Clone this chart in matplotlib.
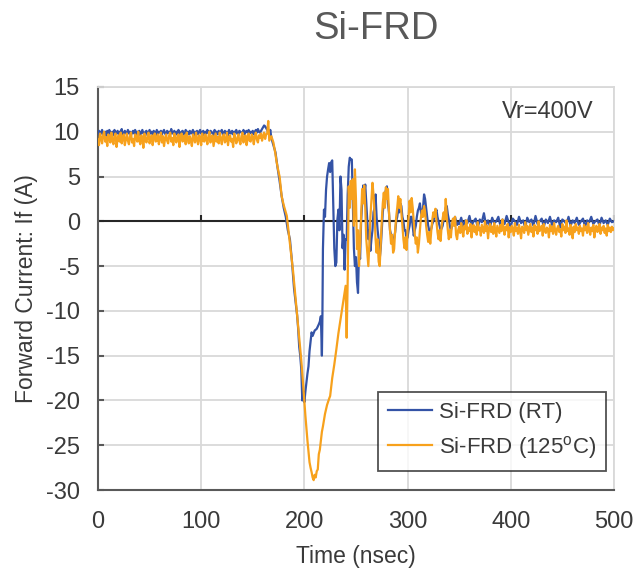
import numpy as np
import matplotlib
matplotlib.use('Agg')
import matplotlib.pyplot as plt

plt.rcParams['font.family'] = ['Liberation Sans', 'DejaVu Sans']
plt.rcParams['axes.unicode_minus'] = False

# ---- data (time in ns, current in A) ----
# flat forward-current part, one sample per ns from t=0
rt_flat = [9.8, 10.1, 9.6, 9.9, 10.2, 9.7, 9.9, 10.0, 9.5, 10.1, 9.8, 10.2, 9.7, 9.9, 10.0, 9.6, 10.2, 9.8, 9.9, 10.1,
           9.7, 10.0, 9.9, 10.3, 9.6, 9.8, 10.1, 9.9, 9.7, 10.2, 9.8, 10.0, 9.6, 9.9, 10.1, 9.8, 10.2, 9.7, 10.0, 9.9,
           10.1, 9.6, 9.9, 10.2, 9.8, 9.7, 10.0, 10.1, 9.6, 9.9, 10.2, 9.8, 10.0, 9.7, 10.1, 9.9, 9.6, 10.2, 9.8, 10.0,
           9.9, 10.1, 9.7, 10.0, 10.2, 9.8, 9.6, 10.1, 9.9, 10.0, 9.7, 10.3, 9.8, 9.9, 10.1, 9.6, 10.0, 9.8, 10.2, 9.9,
           9.7, 10.0, 10.1, 9.8, 9.6, 10.2, 9.9, 10.0, 9.7, 10.1, 9.8, 9.9, 10.2, 9.6, 10.0, 9.9, 10.1, 9.7, 10.0, 10.2,
           9.8, 9.9, 10.1, 9.6, 10.0, 9.8, 10.2, 9.9, 9.7, 10.1, 10.0, 9.8, 9.6, 10.2, 9.9, 10.0, 9.7, 10.1, 9.8, 10.0,
           10.2, 9.7, 9.9, 10.1, 9.8, 10.0, 9.6, 10.2, 9.9, 9.8, 10.1, 9.7, 10.0, 9.9, 10.2, 9.8, 9.6, 10.1, 10.0, 9.9,
           9.8, 10.2, 9.7, 10.0, 10.1, 9.9, 10.2, 9.8, 10.0, 9.9, 10.1, 9.7, 10.0, 10.2, 9.9, 10.3, 10.0, 9.9, 10.1, 10.3,
           10.5, 10.7, 10.6, 10.4]
hot_flat = [9.1, 8.5, 9.8, 9.3, 8.7, 9.6, 10.0, 8.9, 9.4, 8.4, 9.7, 9.2, 8.8, 9.9, 9.0, 8.6, 9.5, 9.8, 8.3, 9.2,
            9.6, 8.9, 9.9, 8.7, 9.3, 9.7, 8.5, 9.1, 9.8, 9.0, 8.6, 9.5, 9.9, 8.8, 9.2, 8.4, 9.7, 9.4, 8.9, 10.0,
            9.0, 8.6, 9.6, 9.3, 8.2, 9.8, 9.1, 8.8, 9.5, 9.9, 8.7, 9.2, 9.6, 8.5, 9.4, 9.8, 8.9, 9.0, 9.7, 8.6,
            9.3, 9.9, 8.8, 9.5, 8.4, 9.2, 9.7, 9.0, 8.7, 9.6, 9.9, 8.9, 9.3, 8.5, 9.8, 9.1, 8.8, 9.5, 9.7, 8.3,
            9.4, 9.8, 8.9, 9.1, 9.6, 8.6, 9.9, 9.2, 8.7, 9.5, 9.0, 8.4, 9.7, 9.3, 8.8, 9.9, 9.1, 8.6, 9.6, 9.4,
            8.5, 9.8, 9.0, 8.9, 9.7, 9.2, 8.6, 9.5, 10.0, 8.8, 9.3, 9.6, 8.4, 9.1, 9.8, 8.9, 9.4, 8.7, 9.9, 9.2,
            8.6, 9.5, 9.7, 8.8, 9.0, 9.9, 8.5, 9.3, 9.6, 8.9, 9.2, 8.3, 9.8, 9.4, 8.7, 9.1, 9.7, 9.0, 8.6, 9.5,
            9.9, 8.8, 9.3, 9.6, 8.5, 9.2, 9.8, 9.0, 8.9, 9.7, 9.4, 8.6, 9.5, 9.9, 9.1, 8.8, 9.6, 9.3, 9.8, 9.0,
            9.5, 9.9, 9.2, 9.7]

# turn-off transient, irregular time points up to 239 ns
rt_fall_t = [164, 166, 167, 168, 170, 172, 174, 176, 178, 180, 182, 184, 186, 188, 190, 192, 193, 194, 195, 196,
             197, 198, 199, 200, 201, 202, 203, 204, 205, 206, 207, 208, 210, 212, 214, 215, 216, 217, 217.5, 218,
             219, 220, 221, 222, 223, 224, 225, 226, 227, 228, 229, 230, 231, 232, 233, 234, 235, 236, 237, 238,
             239]
rt_fall_v = [10.2, 9.8, 10.2, 9.3, 8.5, 7.7, 6.0, 4.5, 2.8, 1.5, 0.5, -1.0, -2.0, -4.5, -7.5, -9.5, -10.5, -12.0, -14.0, -15.0,
             -16.5, -20.0, -19.0, -20.2, -19.0, -18.0, -17.0, -16.2, -14.5, -13.5, -12.4, -12.8, -12.2, -12.0, -11.5, -11.2, -10.6, -15.0, -10.5, -3.1,
             1.3, 0.5, 3.5, 5.0, 5.8, 6.5, 5.5, 6.6, 6.8, 2.1, -3.0, -5.0, -4.6, 0.2, 1.3, -1.0, 5.0, 3.5, -3.0, -1.5,
             -5.4]
hot_fall_t = [164, 165, 166, 168, 170, 172, 173, 175, 176, 178, 180, 182, 183, 185, 187, 189, 191, 193, 195, 197,
              199, 201, 203, 205, 206, 207, 208, 209, 210, 211, 212, 213, 214, 215, 216, 217, 218, 220, 222, 224,
              225, 227, 229, 231, 233, 235, 237, 239]
hot_fall_v = [9.8, 11.2, 9.0, 9.5, 8.8, 7.5, 6.7, 5.5, 5.0, 2.8, 1.8, 1.0, 0.6, -1.5, -3.5, -5.5, -8.0, -10.6, -13.0, -15.5,
              -18.5, -21.7, -24.5, -26.9, -27.5, -28.0, -28.6, -28.9, -28.3, -28.6, -27.9, -27.7, -26.0, -25.5, -24.5, -23.5, -22.9, -21.5, -20.5, -19.8,
              -19.5, -17.5, -16.0, -14.3, -12.5, -11.0, -9.5, -8.0]

# ringing, one sample per ns from t=240 to 349
rt_ring = [-2.0, -2.0, 3.0, 6.1, 7.1, 6.9, 6.9, 2.0, -3.0, -5.0, -4.0, -6.8, -8.0, -3.0, -4.2, 0.0, 2.0, 4.0, 3.0, 4.1,
           2.0, 0.0, -2.0, -1.0, -3.3, -2.0, -1.0, 1.0, 1.5, 3.0, 0.5, -1.0, -2.0, -4.2, -3.0, -1.0, 1.0, 2.0, 3.0, 3.5,
           3.9, 2.0, 1.0, -1.0, -1.5, -2.0, -2.5, -1.8, -1.2, 0.0, 0.5, 1.5, 1.0, 2.0, 1.7, 0.5, 0.0, -1.0, -1.0, -2.0,
           -1.8, -1.0, -0.5, 0.5, 0.5, -0.5, -1.6, -1.0, -0.5, 0.5, 1.2, 1.5, 2.0, 1.0, 0.5, 1.5, 3.0, 2.5, 1.5, 0.5,
           -0.5, -1.0, -1.2, -0.8, -0.3, 0.0, 0.5, 1.0, 1.3, 0.5, 0.0, -0.5, -1.0, -0.8, -0.5, 0.2, 0.8, 1.5, 1.7, 0.8,
           0.2, -0.5, -1.0, -0.6, -0.3, 0.2, 0.5, 0.0, -0.4, -0.2]
hot_ring = [-7.2, -13.0, -6.5, 3.9, 1.5, 4.5, 2.5, 4.7, -0.5, 5.8, 2.5, -3.1, -1.0, -5.0, -2.5, 0.5, 3.6, 2.0, 4.0, 1.5,
            -2.0, -3.5, -5.0, -2.5, 0.5, 2.5, 4.3, 3.0, 1.0, -2.0, -3.5, -2.0, -4.5, -5.0, -2.5, 0.0, 2.0, 3.2, 1.5, 3.8,
            2.5, 3.6, 1.0, -1.0, -2.5, -1.5, -3.5, -3.1, -1.0, 0.5, 1.5, 2.8, 1.5, 2.5, 1.0, -0.5, -2.0, -3.0, -1.8, -3.2,
            -1.0, 0.5, 2.3, 1.0, 2.6, 1.5, 0.0, -1.5, -2.5, -1.8, -3.5, -2.5, -1.0, 0.5, 1.2, 0.5, 1.7, 1.0, -0.5, -1.5,
            -2.3, -1.2, -2.5, -1.0, 0.2, 1.0, 0.5, 1.4, 0.0, -1.2, -2.0, -1.0, -2.2, -0.6, 0.3, 1.0, 0.2, 2.5, 0.5, -1.0,
            -2.0, -1.0, -1.8, -0.3, 0.3, -0.5, 0.5, -1.5, -2.0, -1.0]

# settled tail from t=350: RT every 2 ns, 125C every 1 ns
rt_tail = [-0.3, 0.4, -0.6, 0.1, -0.2, 0.6, -0.5, 0.0, 0.3, -0.7, 0.2, -0.1, 0.9, -0.4, 0.1, -0.6, 0.4, -0.2, 0.0, 0.5,
           -0.5, 0.2, -0.3, 0.6, -0.1, -0.6, 0.3, 0.0, -0.4, 0.5, -0.2, 0.1, -0.7, 0.4, -0.1, 0.2, -0.5, 0.6, -0.3, 0.0,
           0.3, -0.6, 0.2, -0.2, 0.5, -0.4, 0.1, -0.1, 0.4, -0.7, 0.2, 0.0, -0.3, 0.5, -0.5, 0.1, -0.2, 0.4, -0.4, 0.0,
           0.3, -0.6, 0.1, -0.1, 0.5, -0.3, 0.0, 0.2, -0.5, 0.4, -0.2, 0.1, -0.4, 0.3, -0.1, 0.0, 0.2, -0.3]
hot_tail = [-0.6, -1.3, -0.2, -1.0, -1.7, -0.5, -0.9, 0.1, -1.4, -0.7, -1.1, -0.3, -1.8, -0.8, -0.4, -1.2, -0.6, -1.5, -0.1, -1.0,
            -0.7, -1.6, -0.4, -0.9, -1.3, 0.0, -1.1, -0.5, -1.9, -0.8, -0.3, -1.2, -0.6, -1.4, -0.2, -1.0, -1.7, -0.5, -0.9, -1.3,
            -0.4, -1.1, 0.2, -0.8, -1.5, -0.6, -1.0, -0.3, -1.8, -0.7, -1.2, -0.5, -0.9, -1.6, -0.2, -1.1, -0.7, -1.4, -0.4, -1.0,
            -1.9, -0.6, -0.8, -1.3, -0.1, -1.0, -0.5, -1.5, -0.9, -0.3, -1.2, -0.7, -1.7, -0.4, -1.0, -0.6, -1.4, 0.0, -1.1, -0.8,
            -0.5, -1.6, -0.3, -1.0, -1.3, -0.7, -0.9, -1.8, -0.4, -1.1, -0.6, -1.4, -0.2, -1.0, -1.5, -0.8, -0.5, -1.2, -0.9, -1.7,
            -0.3, -1.0, -0.6, -1.3, 0.1, -1.1, -0.8, -1.5, -0.4, -0.9, -1.9, -0.6, -1.2, -0.3, -1.0, -0.7, -1.4, -0.5, -1.1, -0.8,
            -1.6, -0.4, -1.0, -0.6, -1.3, -0.2, -0.9, -1.5, -0.7, -1.1, -0.4, -1.8, -0.8, -0.5, -1.2, -0.9, -0.3, -1.4, -0.7, -1.0,
            -0.5, -1.3, -0.8, -1.6, -0.4, -1.1, -0.7, -1.2, -0.6, -1.0, -0.8]

labels = ['Si-FRD (RT)', 'Si-FRD (125$^{\\mathregular{o}}$C)']
colors = ['#3453a6', '#f7a11c']
x_ticks = [0, 100, 200, 300, 400, 500]
y_ticks = [-30, -25, -20, -15, -10, -5, 0, 5, 10, 15]


def build(flat, fall_t, fall_v, ring, tail, tail_step):
    t = np.concatenate([np.arange(len(flat)) * 1.0, fall_t,
                        240 + np.arange(len(ring)) * 1.0,
                        350 + np.arange(len(tail)) * tail_step])
    v = np.concatenate([flat, fall_v, ring, tail])
    return t, v


t_rt, v_rt = build(rt_flat, rt_fall_t, rt_fall_v, rt_ring, rt_tail, 2.0)
t_hot, v_hot = build(hot_flat, hot_fall_t, hot_fall_v, hot_ring, hot_tail, 1.0)

fig = plt.figure(figsize=(6.37, 5.75), dpi=100)
ax = fig.add_axes([0.1538, 0.1478, 0.8100, 0.7010])

txt = '#3a3a3a'
grid_c = '#d9d9d9'

ax.set_xlim(0, 500)
ax.set_ylim(-30, 15)
ax.set_xticks(x_ticks)
ax.set_yticks(y_ticks)
ax.grid(True, color=grid_c, lw=1.3, zorder=0)
ax.set_axisbelow(True)

ax.plot(t_rt, v_rt, color=colors[0], lw=1.6, label=labels[0], zorder=3)
ax.plot(t_hot, v_hot, color=colors[1], lw=1.6, label=labels[1], zorder=4)

# zero line with small tick marks like the Excel category axis
ax.axhline(0, color='#262626', lw=1.5, zorder=2)
ax.plot(x_ticks[1:], [0] * 5, ls='none', marker=2, ms=4, mew=1.5, color='#262626', zorder=2)

for side in ['top', 'right']:
    ax.spines[side].set_color(grid_c)
    ax.spines[side].set_linewidth(1.3)
for side in ['left', 'bottom']:
    ax.spines[side].set_color('#595959')
    ax.spines[side].set_linewidth(1.5)

ax.tick_params(axis='y', direction='in', length=4, width=1.5, color='#595959',
               labelsize=17, labelcolor=txt, pad=13)
ax.tick_params(axis='x', length=0, labelsize=17, labelcolor=txt, pad=15)

ax.set_xlabel('Time (nsec)', fontsize=16.5, color=txt, labelpad=9)
ax.set_ylabel('Forward Current: If (A)', fontsize=16.5, color=txt, labelpad=6)

fig.text(0.59, 0.95, 'Si-FRD', fontsize=27.5, color='#595959', ha='center', va='center')
ax.text(0.872, 0.938, 'Vr=400V', transform=ax.transAxes, fontsize=17, color=txt,
        ha='center', va='center')

leg = ax.legend(loc='lower right', bbox_to_anchor=(0.985, 0.048), fontsize=16,
                frameon=True, fancybox=False, handlelength=2.0, borderpad=0.45,
                labelspacing=0.5, handletextpad=0.3, borderaxespad=0)
leg.get_frame().set_edgecolor('#262626')
leg.get_frame().set_linewidth(1.3)
for text in leg.get_texts():
    text.set_color(txt)

fig.savefig('out.png', dpi=100)
